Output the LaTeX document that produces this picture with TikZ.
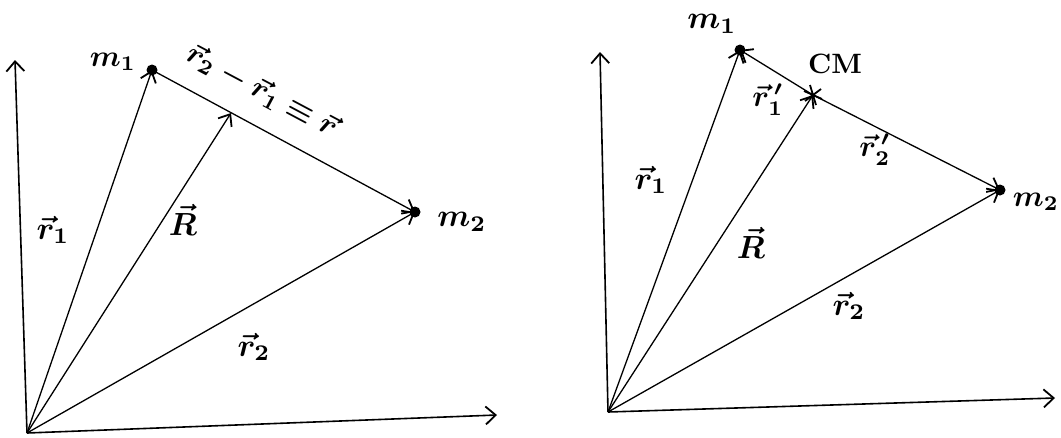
\documentclass[tikz,border=0pt]{standalone}
\usetikzlibrary{arrows.meta}
\begin{document}
\begin{tikzpicture}[x=1pt,y=-1pt,
  vec/.style={line width=1.3pt,-{Straight Barb[length=10pt,width=16pt,line width=1.8pt]}},
  axis/.style={line width=1.6pt,-{Straight Barb[length=10pt,width=18pt,line width=1.8pt]}},
  mass/.style={circle,fill=black,inner sep=0pt,minimum size=11pt},
  lab/.style={inner sep=1pt}]
\useasboundingbox (0,0) rectangle (1061,437);
% ---------- left diagram ----------
\coordinate (O1) at (27,433);
\coordinate (Y1) at (15,60);
\coordinate (X1) at (497,415);
\node[mass] (A1) at (152,70) {};
\node[mass] (B1) at (415,212) {};
\coordinate (R1) at (231,113);
\draw[axis] (O1) -- (Y1);
\draw[axis] (O1) -- (X1);
\draw[vec] (O1) -- (A1.center);
\draw[vec] (O1) -- (B1.center);
\draw[vec] (O1) -- (R1);
\draw[vec] (A1.center) -- (B1.center);
\node[lab] (lm1) at (113,62) {\scalebox{3.0}{\boldmath$m_1$}};
\node[lab] (lm2) at (462,222) {\scalebox{3.2}{\boldmath$m_2$}};
\node[lab] (lr1) at (53,230) {\scalebox{3.2}{\boldmath$\vec r_1$}};
\node[lab] (lR) at (183,220) {\scalebox{3.2}{\boldmath$\vec R$}};
\node[lab] (lr2) at (254,347) {\scalebox{3.2}{\boldmath$\vec r_2$}};
\node[lab,rotate=-28] (lrr) at (262,91) {\scalebox{3.0}{\boldmath$\vec r_2-\vec r_1\equiv\vec r$}};
% ---------- right diagram ----------
\coordinate (O2) at (608,412);
\coordinate (Y2) at (600,52);
\coordinate (X2) at (1055,398);
\node[mass] (A2) at (740,50) {};
\node[mass] (B2) at (1000,190) {};
\coordinate (C2) at (813,95);
\draw[axis] (O2) -- (Y2);
\draw[axis] (O2) -- (X2);
\draw[vec] (O2) -- (A2.center);
\draw[vec] (O2) -- (B2.center);
\draw[vec] (O2) -- (C2);
\draw[vec] (C2) -- (A2.center);
\draw[vec] (C2) -- (B2.center);
\draw[line width=1.8pt] ([shift={(-9,-4)}]C2) -- ([shift={(9,4)}]C2)
  ([shift={(-3,-10)}]C2) -- ([shift={(3,10)}]C2)
  ([shift={(-8,6)}]C2) -- ([shift={(8,-6)}]C2);
\node[lab] (lm1b) at (712,24) {\scalebox{3.2}{\boldmath$m_1$}};
\node[lab] (lcm) at (835,64) {\scalebox{2.8}{\textbf{CM}}};
\node[lab] (lr1p) at (768,100) {\scalebox{3.0}{\boldmath$\vec r_1^{\,\prime}$}};
\node[lab] (lr2p) at (875,150) {\scalebox{3.0}{\boldmath$\vec r_2^{\,\prime}$}};
\node[lab] (lm2b) at (1036,202) {\scalebox{3.0}{\boldmath$m_2$}};
\node[lab] (lr1b) at (651,180) {\scalebox{3.2}{\boldmath$\vec r_1$}};
\node[lab] (lRb) at (751,243) {\scalebox{3.2}{\boldmath$\vec R$}};
\node[lab] (lr2b) at (849,306) {\scalebox{3.2}{\boldmath$\vec r_2$}};
\end{tikzpicture}
\end{document}
